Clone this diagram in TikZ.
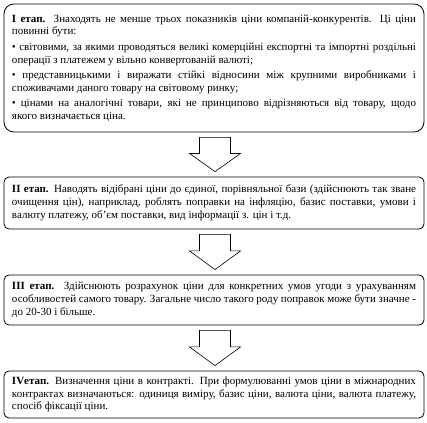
\documentclass[tikz,border=0pt]{standalone}
\usepackage{fontspec}
\setmainfont{Liberation Serif}
\usetikzlibrary{calc}
\hyphenpenalty=10000
\exhyphenpenalty=10000
\tikzset{
  stagebox/.style={draw=black, line width=0.8pt, rounded corners=5pt,
    text width=404pt, inner xsep=8pt, inner ysep=0pt, align=justify,
    font=\fontsize{11}{12.8}\selectfont},
  blockarrow/.style={draw=black, line width=0.6pt, fill=white}
}
\newcommand\pgap{\par\vspace{2.5pt}}
\newcommand\stagearrow[2]{%
  \draw[blockarrow] let \p1=($(#1.south)+(1pt,-5pt)$), \p2=($(#2.north)+(1pt,5pt)$),
    \n1={\y1-0.47*(\y1-\y2)} in
    (\x1-15.5pt,\y1) -- (\x1+15.5pt,\y1) -- (\x1+15.5pt,\n1) -- (\x1+25.5pt,\n1)
    -- (\x1,\y2) -- (\x1-25.5pt,\n1) -- (\x1-15.5pt,\n1) -- cycle;}
\begin{document}
\begin{tikzpicture}[x=1pt,y=1pt]
\useasboundingbox (0,0) rectangle (427,422);
\node[stagebox, rounded corners=10pt, minimum height=128pt] (s1) at (214,354) {%
\textbf{I етап.} Знаходять не менше трьох показників ціни компаній-конкурентів. Ці ціни повинні бути:\pgap
• світовими, за якими проводяться великі комерційні експортні та імпортні роздільні операції з платежем у вільно конвертованій валюті;\pgap
• представницькими і виражати стійкі відносини між крупними виробниками і споживачами даного товару на світовому ринку;\pgap
• цінами на аналогічні товари, які не принципово відрізняються від товару, щодо\linebreak якого визначається ціна.};
\node[stagebox, minimum height=52pt] (s2) at (214,219) {%
\textbf{II етап.} Наводять відібрані ціни до єдиної, порівняльної бази (здійснюють так зване очищення цін), наприклад, роблять поправки на інфляцію, базис поставки, умови і валюту платежу, об'єм поставки, вид інформації з. цін і т.д.};
\node[stagebox, minimum height=50pt] (s3) at (214,122) {%
\textbf{III етап.} Здійснюють розрахунок ціни для конкретних умов угоди з урахуванням особливостей самого товару. Загальне число такого роду поправок може бути значне - до 20-30 і більше.};
\node[stagebox, minimum height=47pt] (s4) at (214,27.5) {%
\textbf{IVетап.} Визначення ціни в контракті. При формулюванні умов ціни в міжнародних контрактах визначаються: одиниця виміру, базис ціни, валюта ціни, валюта платежу, спосіб фіксації ціни.};
\stagearrow{s1}{s2}
\stagearrow{s2}{s3}
\stagearrow{s3}{s4}
\end{tikzpicture}
\end{document}
